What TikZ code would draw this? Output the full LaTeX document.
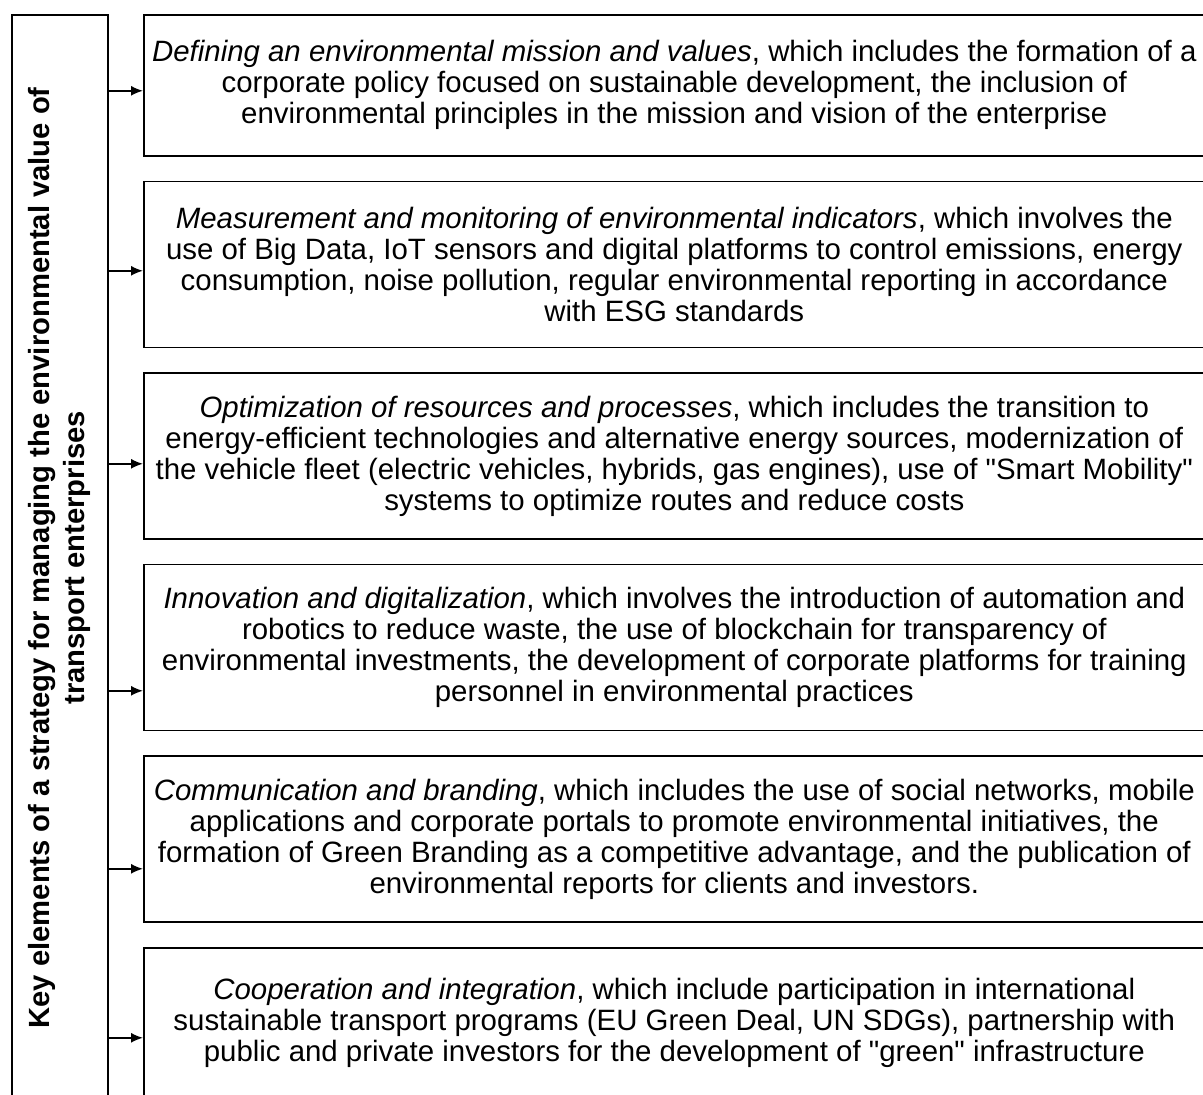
\documentclass[tikz,border=0pt]{standalone}
\usepackage{fontspec}
\setmainfont{Liberation Sans}
\usetikzlibrary{arrows.meta, positioning}

\begin{document}
\begin{tikzpicture}[
    x=0.5pt, y=-0.5pt,
    node distance=12pt,
    item/.style={
      rectangle, draw, line width=0.8pt, inner sep=0pt,
      minimum width=530.5pt, minimum height=83pt,
      font=\fontsize{14.7}{15.5}\selectfont, align=center
    },
    keybox/.style={
      rectangle, draw, line width=0.8pt, inner sep=0pt,
      rotate=90, minimum width=543pt, minimum height=48pt,
      font=\bfseries\fontsize{14.6}{17.5}\selectfont, align=center
    },
    arr/.style={-{Latex[length=6pt, width=5pt]}, line width=0.8pt},
  ]

  \useasboundingbox (0,0) rectangle (1203,1095);
  \fill[white] (0,0) rectangle (1203,1095);
  \clip (0,0) rectangle (1203,1095);

  %% -- strategy box on the left --
  \node[keybox, anchor=north east] (key) at (11,14)
    {Key elements of a strategy for managing the environmental value of\\transport enterprises};

  %% -- elements --
  \node[item, anchor=north west, minimum height=70.5pt] (b1) at (143,14)
    {\textit{Defining an environmental mission and values}, which includes the formation of a\\
     corporate policy focused on sustainable development, the inclusion of\\
     environmental principles in the mission and vision of the enterprise};
  \node[item, below=of b1] (b2)
    {\textit{Measurement and monitoring of environmental indicators}, which involves the\\
     use of Big Data, IoT sensors and digital platforms to control emissions, energy\\
     consumption, noise pollution, regular environmental reporting in accordance\\
     with ESG standards};
  \node[item, below=of b2] (b3)
    {\textit{Optimization of resources and processes}, which includes the transition to\\
     energy-efficient technologies and alternative energy sources, modernization of\\
     the vehicle fleet (electric vehicles, hybrids, gas engines), use of \textquotedbl Smart Mobility\textquotedbl\\
     systems to optimize routes and reduce costs};
  \node[item, below=of b3] (b4)
    {\textit{Innovation and digitalization}, which involves the introduction of automation and\\
     robotics to reduce waste, the use of blockchain for transparency of\\
     environmental investments, the development of corporate platforms for training\\
     personnel in environmental practices};
  \node[item, below=of b4] (b5)
    {\textit{Communication and branding}, which includes the use of social networks, mobile\\
     applications and corporate portals to promote environmental initiatives, the\\
     formation of Green Branding as a competitive advantage, and the publication of\\
     environmental reports for clients and investors.};
  \node[item, below=of b5, minimum height=75pt] (b6)
    {\textit{Cooperation and integration}, which include participation in international\\
     sustainable transport programs (EU Green Deal, UN SDGs), partnership with\\
     public and private investors for the development of \textquotedbl green\textquotedbl{} infrastructure};

  %% -- arrows (shift below the box middle) --
  \foreach \b/\dy in {b1/2.75, b2/3.2, b3/3.9, b4/21.6, b5/14.8, b6/7.5}
    \draw[arr] ([yshift=-\dy pt]\b.west -| key.south) -- ([yshift=-\dy pt]\b.west);

\end{tikzpicture}
\end{document}
